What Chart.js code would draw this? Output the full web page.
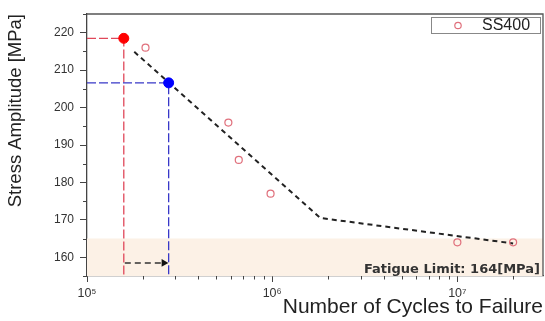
<!DOCTYPE html>
<html><head><meta charset="utf-8">
<script src="https://cdn.jsdelivr.net/npm/chart.js@4.4.0/dist/chart.umd.min.js"></script>
<style>html,body{margin:0;padding:0;background:#fff}#wrap{width:545px;height:321px}</style>
</head><body><div id="wrap"><canvas id="c" width="545" height="321"></canvas></div>
<script>
// ---- data ----
const seriesName = 'SS400';
const cycles = [2.07e5, 5.8e5, 6.6e5, 9.8e5, 1.0e7, 2.0e7];
const stress = [216, 196, 186, 177, 164, 164];
const fitCycles = [1.8e5, 1.82e6, 2.0e7];
const fitStress = [214.9, 170.5, 163.7];
const redCycles = [1.58e5];
const redStress = [218.5];
const blueCycles = [2.76e5];
const blueStress = [206.6];
const arrowCycles = [1.6e5, 2.6e5];
const arrowStress = [158.5, 158.5];
const fatigueLimit = 164;
const bandTop = 165;
const xRange = [1e5, 2.9e7];
const yRange = [155, 225];
const xTickLabels = ['10⁵', '10⁶', '10⁷'];
const xTickValues = [1e5, 1e6, 1e7];
const yTickStep = 5;
const yLabelStep = 10;
const xTitle = 'Number of Cycles to Failure';
const yTitle = 'Stress Amplitude [MPa]';
const limitText = 'Fatigue Limit: ' + fatigueLimit + '[MPa]';

const FONT = "'Liberation Sans', Arial, sans-serif";
Chart.defaults.font.family = FONT;

const pts = (xs, ys) => xs.map((x, i) => ({x, y: ys[i]}));
const isDecade = v => Math.abs(Math.log10(v) - Math.round(Math.log10(v))) < 1e-9;

const framePlugin = {
  id: 'frame',
  afterDraw(chart) {
    const {ctx, chartArea: a, scales: {x: xs, y: ys}} = chart;
    ctx.save();
    // top and right frame lines
    ctx.strokeStyle = '#555'; ctx.lineWidth = 1.3;
    ctx.beginPath();
    ctx.moveTo(a.left, a.top); ctx.lineTo(a.right, a.top); ctx.lineTo(a.right, a.bottom);
    ctx.stroke();
    // minor ticks
    ctx.strokeStyle = '#444'; ctx.lineWidth = 1;
    ctx.beginPath();
    for (let e = Math.floor(Math.log10(xRange[0])); e <= Math.ceil(Math.log10(xRange[1])); e++) {
      for (let n = 2; n <= 9; n++) {
        const v = n * Math.pow(10, e);
        if (v < xRange[0] || v > xRange[1]) continue;
        const px = Math.round(xs.getPixelForValue(v)) + 0.5;
        ctx.moveTo(px, a.bottom); ctx.lineTo(px, a.bottom + 3.5);
      }
    }
    for (let v = yRange[0]; v <= yRange[1]; v += yTickStep) {
      if (v % yLabelStep === 0) continue;
      const py = Math.round(ys.getPixelForValue(v)) + 0.5;
      ctx.moveTo(a.left - 4, py); ctx.lineTo(a.left, py);
    }
    ctx.stroke();
    // fatigue limit text
    ctx.fillStyle = '#333';
    ctx.font = "bold 13px 'DejaVu Sans', sans-serif";
    ctx.textAlign = 'right'; ctx.textBaseline = 'alphabetic';
    ctx.fillText(limitText, a.right - 3, a.bottom - 3);
    // legend
    const bx = a.right - 112, by = a.top + 3, bw = 109, bh = 16;
    ctx.fillStyle = '#fff'; ctx.fillRect(bx, by, bw, bh);
    ctx.strokeStyle = '#888'; ctx.lineWidth = 1;
    ctx.strokeRect(bx + 0.5, by + 0.5, bw, bh);
    ctx.strokeStyle = '#e0707c'; ctx.lineWidth = 1.2;
    ctx.beginPath(); ctx.arc(bx + 27, by + 8.5, 3.2, 0, Math.PI * 2); ctx.stroke();
    ctx.fillStyle = '#222'; ctx.font = "16px " + FONT;
    ctx.textAlign = 'left'; ctx.textBaseline = 'middle';
    ctx.fillText(seriesName, bx + 51, by + 9);
    ctx.restore();
  }
};

new Chart(document.getElementById('c'), {
  type: 'line',
  data: {
    datasets: [
      { label: 'band', data: pts(xRange, [bandTop, bandTop]), fill: 'start',
        backgroundColor: '#fcf1e6', borderWidth: 0, pointRadius: 0, order: 10 },
      { label: 'redGuide', data: [{x: xRange[0], y: redStress[0]}, {x: redCycles[0], y: redStress[0]}, {x: redCycles[0], y: yRange[0]}],
        borderColor: '#e0485a', borderDash: [9, 3], borderWidth: 1.3, pointRadius: 0, fill: false, order: 9 },
      { label: 'blueGuide', data: [{x: xRange[0], y: blueStress[0]}, {x: blueCycles[0], y: blueStress[0]}, {x: blueCycles[0], y: yRange[0]}],
        borderColor: '#3838c8', borderDash: [9, 3], borderWidth: 1.3, pointRadius: 0, fill: false, order: 8 },
      { label: 'arrow', data: pts(arrowCycles, arrowStress), borderColor: '#333', borderDash: [6, 4], borderWidth: 1.5,
        pointRadius: [0, 4.5], pointStyle: 'triangle', pointRotation: 90, pointBackgroundColor: '#111',
        pointBorderColor: '#111', pointBorderWidth: 0, fill: false, order: 7 },
      { label: 'fit', data: pts(fitCycles, fitStress), borderColor: '#222', borderDash: [5, 4], borderWidth: 2,
        pointRadius: 0, fill: false, order: 6 },
      { label: seriesName, data: pts(cycles, stress), showLine: false, pointStyle: 'circle', pointRadius: 3.5,
        pointBorderColor: '#e0707c', pointBackgroundColor: 'rgba(255,255,255,0)', pointBorderWidth: 1.2, order: 2 },
      { label: 'red', data: pts(redCycles, redStress), showLine: false, pointRadius: 5,
        pointBackgroundColor: '#ff0000', pointBorderColor: '#ff0000', order: 1 },
      { label: 'blue', data: pts(blueCycles, blueStress), showLine: false, pointRadius: 5,
        pointBackgroundColor: '#0000ff', pointBorderColor: '#0000ff', order: 1 }
    ]
  },
  options: {
    responsive: false, animation: false, devicePixelRatio: 1, events: [],
    layout: { autoPadding: false, padding: { top: 14, right: 2, left: 0, bottom: 0 } },
    plugins: { legend: { display: false }, tooltip: { enabled: false } },
    scales: {
      x: {
        type: 'logarithmic', min: xRange[0], max: xRange[1],
        afterFit: s => { s.height = 45; s.paddingLeft = 0; s.paddingRight = 0; },
        border: { display: true, color: '#444', width: 1.3 },
        grid: { drawOnChartArea: false, tickLength: 6,
          tickColor: c => isDecade(c.tick.value) ? '#444' : 'rgba(0,0,0,0)' },
        ticks: { autoSkip: false, maxRotation: 0, padding: 4, color: '#333', font: { size: 12.5 },
          callback: v => { const i = xTickValues.findIndex(t => Math.abs(t - v) / t < 1e-9); return i >= 0 ? xTickLabels[i] : ''; } },
        title: { display: true, text: xTitle, align: 'end', color: '#222', font: { size: 21 },
          padding: { top: 0, bottom: 1 } }
      },
      y: {
        type: 'linear', min: yRange[0], max: yRange[1],
        afterFit: s => { s.width = 87; s.paddingTop = 0; s.paddingBottom = 0; },
        border: { display: true, color: '#444', width: 1.3 },
        grid: { drawOnChartArea: false, tickLength: 7,
          tickColor: c => c.tick.value % yLabelStep === 0 ? '#444' : 'rgba(0,0,0,0)' },
        ticks: { stepSize: yTickStep, padding: 6, color: '#333', font: { size: 12 },
          callback: v => v % yLabelStep === 0 ? String(v) : '' },
        title: { display: true, text: yTitle, align: 'end', color: '#222', font: { size: 18.5 },
          padding: { top: 5, bottom: 0 } }
      }
    }
  },
  plugins: [framePlugin]
});
</script></body></html>
